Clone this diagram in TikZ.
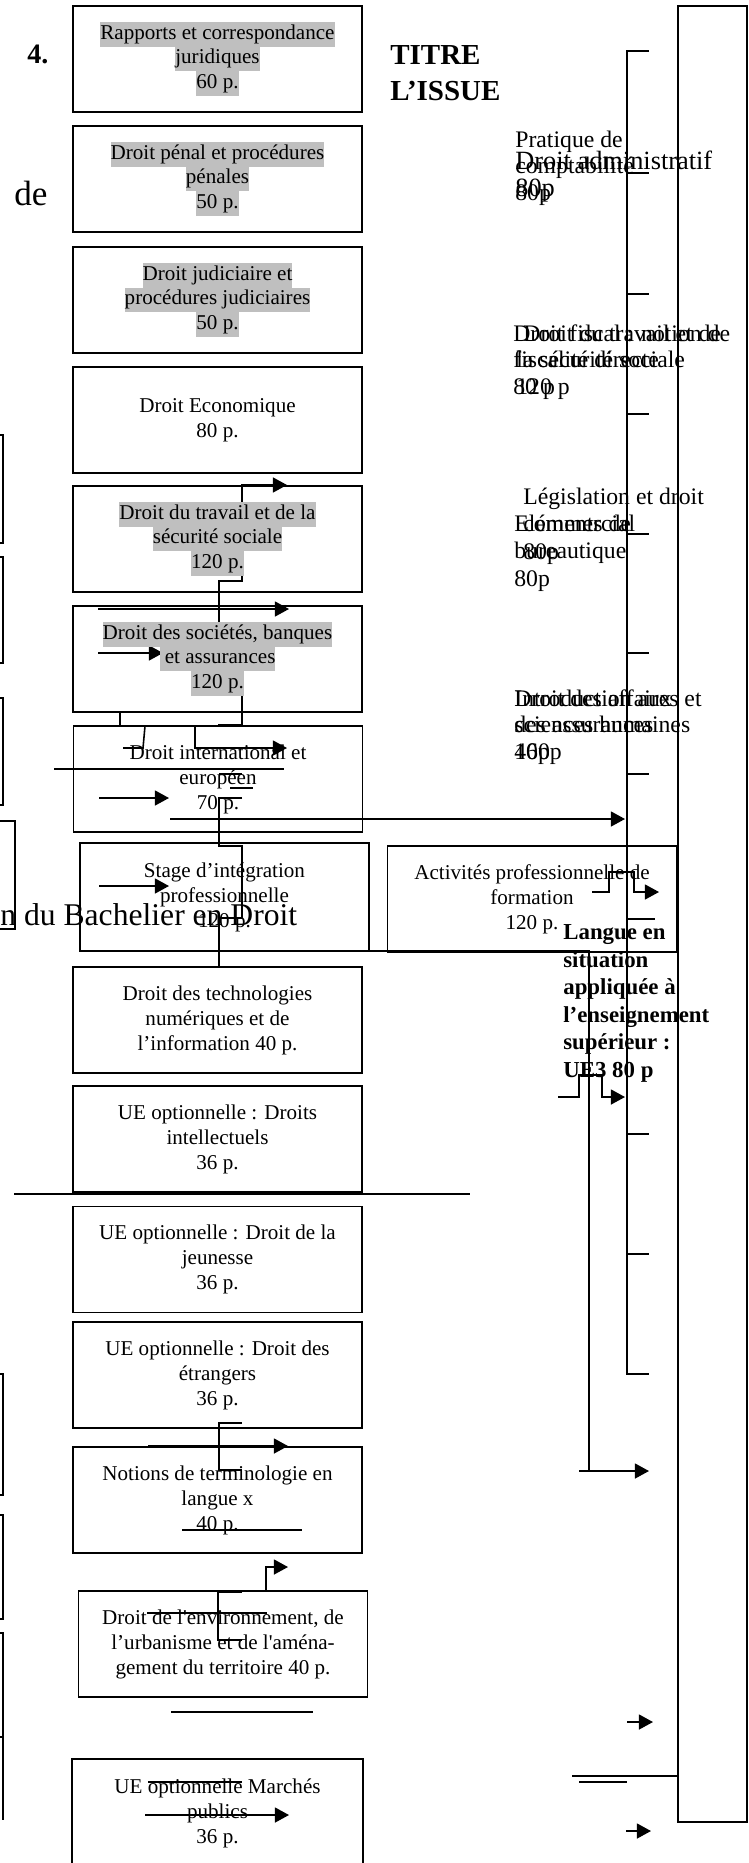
\documentclass[tikz,border=0pt]{standalone}
\usepackage{fontspec}
\setmainfont{Liberation Serif}
\usetikzlibrary{arrows.meta}
\pgfdeclarelayer{fond}
\pgfsetlayers{fond,main}
\definecolor{surligne}{RGB}{191,191,191}
\setlength{\fboxsep}{0pt}
\newcommand{\grise}[1]{\colorbox{surligne}{\strut #1}}
\def\bw{5.78cm}
\def\bh{2.12cm}
\tikzset{
    ue/.style = {
        draw, rectangle, minimum width=\bw, minimum height=\bh, inner sep=0pt,
        align=center, line width=1pt, font=\fontsize{12}{14.2}\selectfont
    },
    cote/.style = {
        anchor=base west, align=left, inner sep=0pt, font=\fontsize{13.5}{15}\selectfont
    },
    lien/.style = {line width=0.9pt},
    fleche/.style = {line width=0.9pt, -{Triangle[length=8pt,width=8.5pt]}},
    bord/.style = {line width=0.8pt},
}

\begin{document}
\begin{tikzpicture}[x=0.02cm, y=-0.02cm]
        \useasboundingbox (0,0) rectangle (748,1863);
        \clip (0,0) rectangle (748,1863);

        % Titres (ancre = ligne de base de la derniere ligne)
        \node[anchor=base west, inner sep=0pt, font=\bfseries\fontsize{16}{19}\selectfont] (numero) at (27,63) {4.};
        \node[anchor=base west, inner sep=0pt, align=left, font=\bfseries\fontsize{16.5}{20}\selectfont] (titre) at (390,100) {TITRE\\L’ISSUE};
        \node[anchor=base west, inner sep=0pt, font=\fontsize{20}{24}\selectfont] (de) at (14,205) {de};

        % Colonne des UE
        \node[ue] (rapports) at (217.5,59) {\grise{Rapports et correspondance}\\\grise{juridiques}\\\grise{60 p.}};
        \node[ue] (penal) at (217.5,179) {\grise{Droit pénal et procédures}\\\grise{pénales}\\\grise{50 p.}};
        \node[ue] (judiciaire) at (217.5,300) {\grise{Droit judiciaire et}\\\grise{procédures judiciaires}\\\grise{50 p.}};
        \node[ue] (economique) at (217.5,420) {Droit Economique\\80 p.};
        \node[ue] (travail) at (217.5,539) {\grise{Droit du travail et de la}\\\grise{sécurité sociale}\\\grise{120 p.}};
        \node[ue] (societes) at (217.5,659) {\grise{Droit des sociétés, banques}\\\grise{ et assurances}\\\grise{120 p.}};
        \node[ue] (international) at (218,779) {Droit international et\\européen\\70 p.};
        \node[ue, minimum height=2.16cm] (stage) at (224.5,897) {Stage d’intégration\\professionnelle\\120 p.};
        \node[ue] (activites) at (532,899) {Activités professionnelle de\\formation\\120 p.};
        \node[ue] (numerique) at (217.5,1020) {Droit des technologies\\numériques et de\\l’information 40 p.};
        \node[ue] (intellectuels) at (217.5,1139) {UE optionnelle : Droits\\intellectuels\\36 p.};
        \node[ue] (jeunesse) at (217.5,1259.5) {UE optionnelle : Droit de la\\jeunesse\\36 p.};
        \node[ue] (etrangers) at (217.5,1375) {UE optionnelle : Droit des\\étrangers\\36 p.};
        \node[ue] (terminologie) at (217.5,1500) {Notions de terminologie en\\langue x\\40 p.};
        \node[ue] (environnement) at (223,1644) {Droit de l\textquotesingle environnement, de\\l’urbanisme et de l\textquotesingle aména-\\gement du territoire 40 p.};
        \node[ue, draw=none] (marches) at (217.5,1813) {UE optionnelle Marchés\\publics\\36 p.};
        \draw[line width=1pt] (marches.south west) |- (marches.north east) -- (marches.south east);

        \node[anchor=base west, inner sep=0pt, font=\fontsize{18}{22}\selectfont] (bachelier) at (0,925) {n du Bachelier en Droit};

        % Textes de droite
        \node[cote] (pratique) at (515,200) {Pratique de\\comptabilité\\80p};
        \node[cote, font=\fontsize{15}{15}\selectfont] (administratif) at (515,196) {Droit administratif\\80p};
        \node[cote] (fiscal) at (513,394) {Droit fiscal : notion de\\fiscalité directe\\80 p};
        \node[cote] (travailsoc) at (516,394) {\hspace*{4pt}Droit du travail et de\\la sécurité sociale\\120 p};
        \node[cote, font=\fontsize{13.5}{15.4}\selectfont] (legislation) at (523,559) {Législation et droit\\commercial\\80p};
        \node[cote, font=\fontsize{13.5}{15.4}\selectfont] (bureautique) at (514,586) {Eléments de\\bureautique\\80p};
        \node[cote] (affaires) at (514,759) {Droit des affaires et\\des assurances\\160p};
        \node[cote] (humaines) at (514,759) {Introduction aux\\sciences humaines\\40p};
        \node[cote, font=\bfseries\fontsize{13}{15.6}\selectfont] (langue) at (563,1077) {Langue en\\situation\\appliquée à\\l’enseignement\\supérieur :\\UE3 80 p};

        % Traits et fleches
        \begin{pgfonlayer}{fond}
            \draw[fleche] (219,622) |- (242,581) -- (242,485) -- (287,485);
            \draw[fleche] (98,609) -- (289,609);
            \draw[fleche] (98,653) -- (163,653);
            \draw[lien] (120,712) -- (120,726);
            \draw[lien] (242,695) -- (242,725) -- (218,725);
            \draw[lien] (145,726) -- (143,748) -- (123,748);
            \draw[fleche] (195,726) |- (287,748);
            \draw[lien] (54,769) -- (284,769);
            \draw[lien] (219,774) -- (242,774);
            \draw[lien] (230,788) -- (253,788);
            \draw[fleche] (99,798) -- (169,798);
            \draw[lien] (242,798) -- (219,798) -- (219,846) -- (242,846) -- (242,918) -- (219,918) -- (219,966);
            \draw[fleche] (170,819) -- (625,819);
            \draw[fleche] (99,886) -- (169,886);
            \draw[lien] (97,951) -- (589,951) -- (589,1471);
            \draw[fleche] (579,1471) -- (649,1471);
            \draw[fleche] (592,892) -| (609,872) -| (634,892) -- (659,892);
            \draw[fleche] (558,1097) -| (579,1075) -| (602,1097) -- (625,1097);
            \draw[lien] (14,1194) -- (470,1194);
            \draw[lien] (242,1423) -- (219,1423) -- (219,1470) -- (242,1470);
            \draw[fleche] (148,1446) -- (288,1446);
            \draw[lien] (182,1530) -- (302,1530);
            \draw[fleche] (266,1590) |- (288,1567);
            \draw[lien] (242,1592) -- (218,1592) -- (218,1640) -- (242,1640);
            \draw[lien] (147,1613) -- (267,1613);
            \draw[lien] (171,1712) -- (313,1712);
            \draw[lien] (148,1782) -- (242,1782);
            \draw[fleche] (145,1815) -- (289,1815);
            \draw[fleche] (627,1722) -- (653,1722);
            \draw[fleche] (626,1831) -- (651,1831);
            \draw[lien] (572,1776) -- (678,1776);
            \draw[lien] (579,1782) -- (627,1782);

            % Accolade et grand cadre
            \draw[bord] (649,51) -- (627,51) -- (627,1374) -- (649,1374);
            \foreach \t in {173,294,414,534,653,774,1134,1254}{
                \draw[bord] (627,\t) -- (649,\t);
            }
            \draw[bord] (627,919) -- (655,919);
            \draw[bord] (678,6) rectangle (747,1822);

            % Cadres coupes au bord gauche
            \foreach \a/\b in {435/543, 557/663, 698/805, 1374/1495, 1515/1619, 1633/1737}{
                \draw[lien] (0,\a) -| (3,\b) -- (0,\b);
            }
            \draw[lien] (0,821) -| (15,929) -- (0,929);
            \draw[lien] (3,1737) -- (3,1820);
        \end{pgfonlayer}
    \end{tikzpicture}
\end{document}
